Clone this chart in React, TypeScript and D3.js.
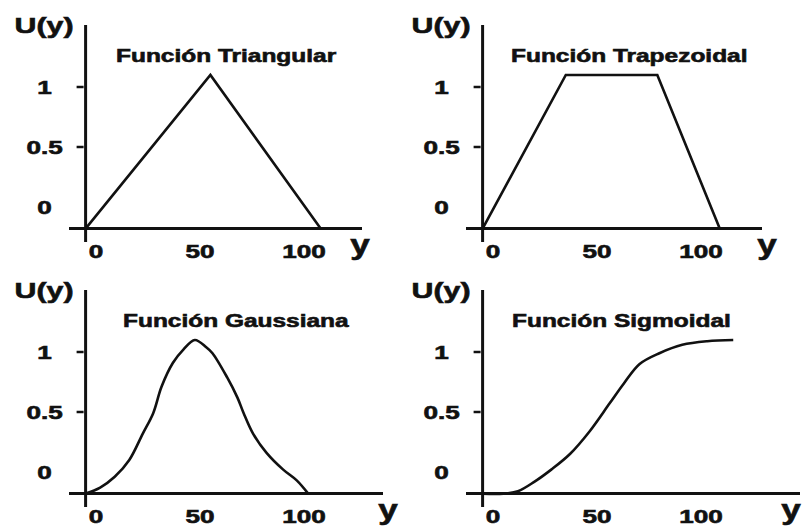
import React from 'react';
import * as d3 from 'd3';

// Axis ticks
const X_TICKS = [0, 50, 100];
const U_TICKS = [0, 0.5, 1];
const U_TICK_MARKS = [0.5, 1];

// Where the two axes cross, in data units
const FLOOR_Y = -5;
const FLOOR_U = -0.18;

const TITLES = ['Función Triangular', 'Función Trapezoidal', 'Función Gaussiana', 'Función Sigmoidal'];

// Membership functions: y values and U(y) values
const triY = [-5, 55, 108];
const triU = [-0.18, 1.1, -0.18];

const trapY = [-5, 35, 79, 109];
const trapU = [-0.18, 1.1, 1.1, -0.18];

const gaussY = [-5, 2, 9, 16, 22.5, 27.5, 31.5, 37, 42, 47.5, 53, 56, 63, 68, 71, 75.5, 82, 90, 96.5, 102];
const gaussU = [-0.18, -0.13, -0.04, 0.1, 0.32, 0.49, 0.71, 0.91, 1.02, 1.1, 1.04, 0.99, 0.79, 0.62, 0.49, 0.32, 0.16, 0.02, -0.07, -0.18];

const sigY = [-5, 5, 12, 20, 28, 37, 46.5, 56, 63, 70.5, 80, 91, 103, 115.5];
const sigU = [-0.18, -0.18, -0.16, -0.08, 0.02, 0.15, 0.34, 0.57, 0.74, 0.9, 0.99, 1.06, 1.09, 1.1];

const SERIES = [
  { ys: triY, us: triU, curve: d3.curveLinear },
  { ys: trapY, us: trapU, curve: d3.curveLinear },
  { ys: gaussY, us: gaussU, curve: d3.curveCatmullRom.alpha(0.5) },
  { ys: sigY, us: sigU, curve: d3.curveCatmullRom.alpha(0.5) },
];

// Panel placement
const LAYOUT = [
  { ox: 0, oy: 0, titleX: 116, axisRight: 362, yLabelX: 360 },
  { ox: 397, oy: 0, titleX: 114, axisRight: 365, yLabelX: 370 },
  { ox: 0, oy: 265, titleX: 123, axisRight: 383, yLabelX: 388 },
  { ox: 397, oy: 265, titleX: 115, axisRight: 403, yLabelX: 394 },
];

const INK = '#111';
const FONT = '"Liberation Sans", Arial, sans-serif';

function WideText({ x, y, size, sx, anchor = 'middle', children }: any) {
  return (
    <text
      transform={`translate(${x},${y}) scale(${sx},1)`}
      textAnchor={anchor}
      fontFamily={FONT}
      fontWeight="bold"
      fontSize={size}
      fill={INK}
      stroke={INK}
      strokeWidth={0.6}
    >
      {children}
    </text>
  );
}

function Panel({ idx }: { idx: number }) {
  const lay = LAYOUT[idx];
  const s = SERIES[idx];
  const x = d3.scaleLinear().domain([0, 100]).range([96, 304]);
  const u = d3.scaleLinear().domain([0, 1]).range([207, 87]);
  const pts = s.ys.map((v, i) => [v, s.us[i]] as [number, number]);
  const line = d3
    .line<[number, number]>()
    .x((d) => x(d[0]))
    .y((d) => u(d[1]))
    .curve(s.curve);
  const ax = x(FLOOR_Y);
  const ay = u(FLOOR_U);
  return (
    <g transform={`translate(${lay.ox},${lay.oy})`}>
      <line x1={ax} x2={ax} y1={25} y2={242} stroke={INK} strokeWidth={3} />
      <line x1={69} x2={lay.axisRight} y1={ay} y2={ay} stroke={INK} strokeWidth={3} />
      {U_TICK_MARKS.map((t) => (
        <line key={t} x1={ax - 9} x2={ax - 2} y1={u(t)} y2={u(t)} stroke={INK} strokeWidth={2.5} />
      ))}
      {U_TICKS.map((t) => (
        <WideText key={t} x={ax - 41} y={u(t) + 6.5} size={18} sx={1.45}>
          {String(t)}
        </WideText>
      ))}
      {X_TICKS.map((t) => (
        <WideText key={t} x={x(t)} y={258} size={18} sx={1.45}>
          {String(t)}
        </WideText>
      ))}
      <WideText x={44} y={33} size={22} sx={1.38}>
        U(y)
      </WideText>
      <WideText x={lay.yLabelX} y={254} size={27} sx={1.3}>
        y
      </WideText>
      <WideText x={lay.titleX} y={62} size={18} sx={1.36} anchor="start">
        {TITLES[idx]}
      </WideText>
      <path d={line(pts) || ''} fill="none" stroke={INK} strokeWidth={2.6} strokeLinejoin="miter" />
    </g>
  );
}

export default function App() {
  return (
    <svg
      width={803}
      height={527}
      viewBox="0 0 803 527"
      style={{ position: 'absolute', left: 0, top: 0, background: '#fff' }}
    >
      <rect width={803} height={527} fill="#fff" />
      {[0, 1, 2, 3].map((i) => (
        <Panel key={i} idx={i} />
      ))}
    </svg>
  );
}
